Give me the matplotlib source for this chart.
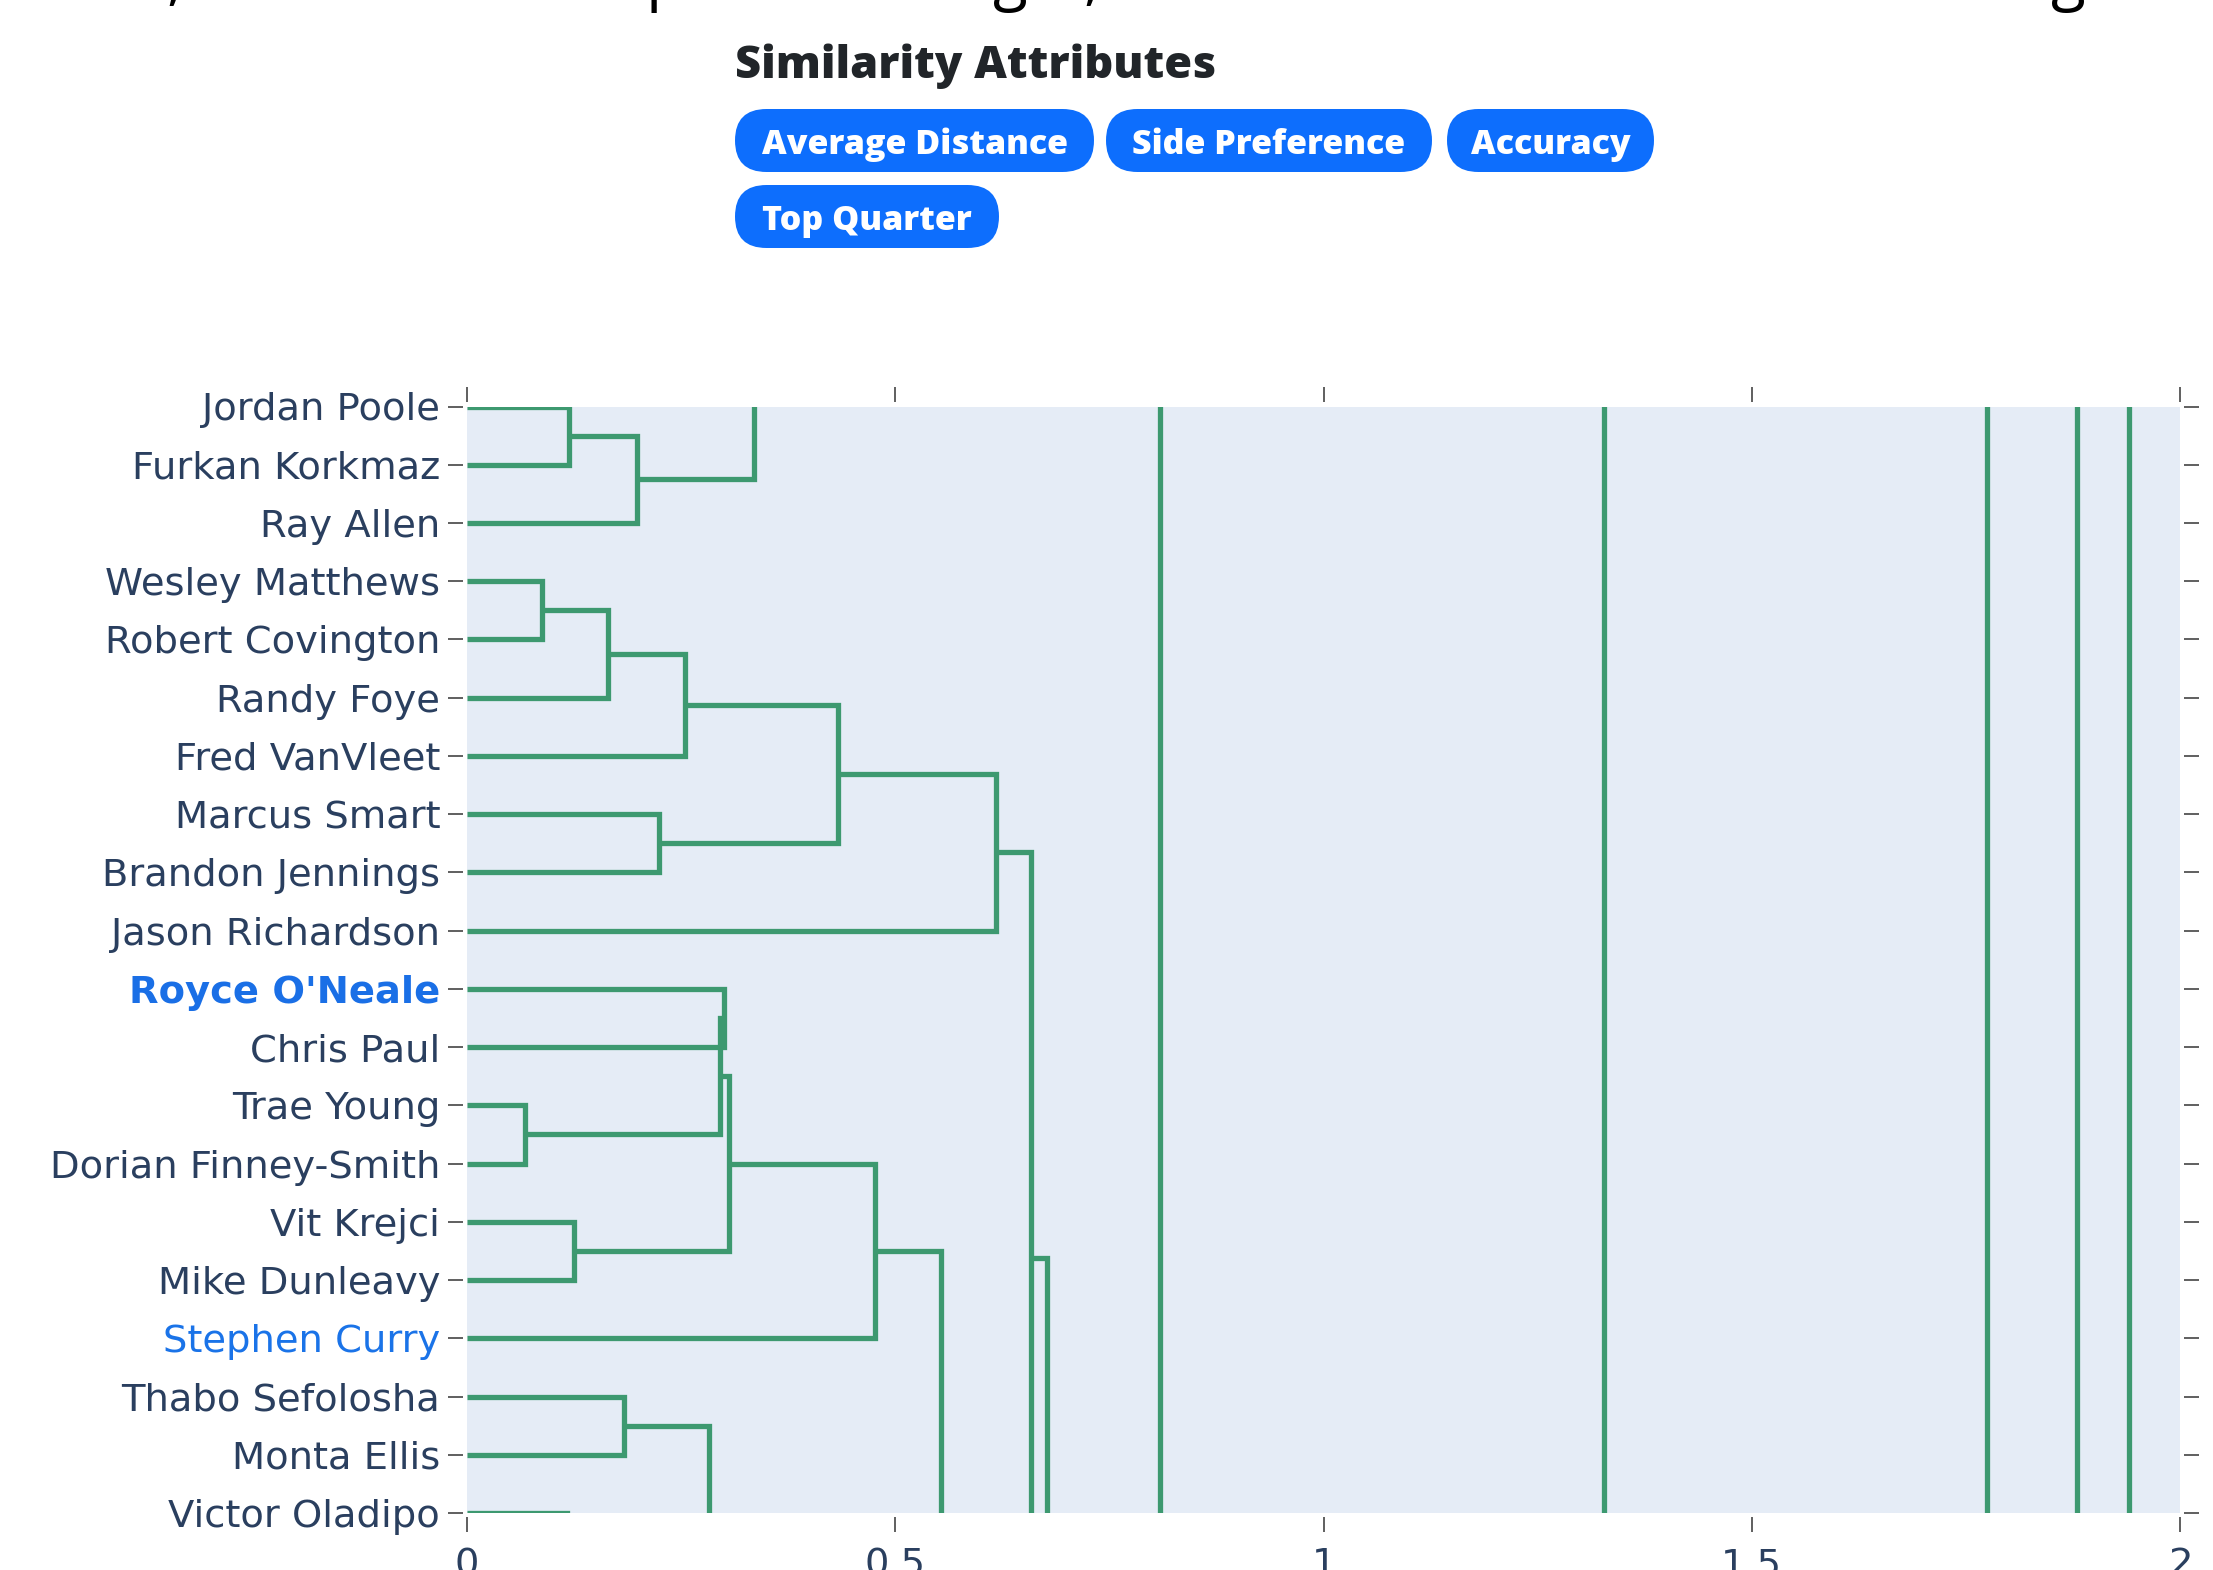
import matplotlib
matplotlib.use("Agg")
import matplotlib.pyplot as plt
from matplotlib.patches import FancyBboxPatch

# ---------------- data ----------------
leaves = ["Jordan Poole", "Furkan Korkmaz", "Ray Allen", "Wesley Matthews",
          "Robert Covington", "Randy Foye", "Fred VanVleet", "Marcus Smart",
          "Brandon Jennings", "Jason Richardson", "Royce O'Neale", "Chris Paul",
          "Trae Young", "Dorian Finney-Smith", "Vit Krejci", "Mike Dunleavy",
          "Stephen Curry", "Thabo Sefolosha", "Monta Ellis", "Victor Oladipo"]

# clusters lying outside the visible window (leaf position, height)
offscreen_names = ["A0", "B0", "B1", "B2", "B3", "B4",
                   "A5", "A6", "A7", "A8", "A9", "B5", "B6", "B7", "B8", "B9"]
offscreen_pos = [-2.5, 21.6, 26.0, 26.0, 20.0, 21.0,
                 -4.0, -8.0, -12.0, -16.0, -20.0, 24.0, 30.0, 36.0, 40.0, 44.0]
offscreen_height = [0.22, 0.55, 0.60, 0.50, 0.0, 0.25,
                    0.70, 1.20, 1.60, 1.80, 1.90, 0.70, 1.20, 1.60, 1.80, 1.90]

# merges m0, m1, ... : (left child, right child, height)
merge_left = ["Jordan Poole", "m0", "A0", "Wesley Matthews", "m3", "m4",
              "Marcus Smart", "m5", "m7", "m8", "m9", "Royce O'Neale",
              "Trae Young", "m11", "Vit Krejci", "m13", "m15", "m16",
              "Thabo Sefolosha", "Victor Oladipo", "m18",
              "A5", "A6", "A7", "A8", "A9"]
merge_right = ["Furkan Korkmaz", "Ray Allen", "m1", "Robert Covington",
               "Randy Foye", "Fred VanVleet", "Brandon Jennings", "m6",
               "Jason Richardson", "B0", "B1", "Chris Paul",
               "Dorian Finney-Smith", "m12", "Mike Dunleavy", "m14",
               "Stephen Curry", "B2", "Monta Ellis", "B3", "B4",
               "B5", "B6", "B7", "B8", "B9"]
merge_height = [0.119, 0.199, 0.335, 0.0875, 0.165, 0.254, 0.224, 0.4335,
                0.618, 0.658, 0.677, 0.300, 0.068, 0.295, 0.125, 0.306,
                0.476, 0.553, 0.183, 0.117, 0.282,
                0.809, 1.328, 1.775, 1.880, 1.941]

x_ticks = [0, 0.5, 1, 1.5, 2]
x_tick_labels = ["0", "0.5", "1", "1.5", "2"]

highlight_bold = "Royce O'Neale"
highlight_plain = "Stephen Curry"

title_text = "Similarity Attributes"
pill_labels = ["Average Distance", "Side Preference", "Accuracy", "Top Quarter"]
cut_chars = [",", "p", "g", ",", "g"]

# ---------------- figure ----------------
W, H = 2213, 1570
fig = plt.figure(figsize=(W / 100, H / 100), dpi=100)
fig.patch.set_facecolor("white")

# pixel-coordinate overlay for header decorations
ov = fig.add_axes([0, 0, 1, 1])
ov.set_xlim(0, W)
ov.set_ylim(H, 0)
ov.axis("off")
ov.set_zorder(0)

# main dendrogram axes
L, R, T, B = 467, 2180, 406.5, 1513
ax = fig.add_axes([L / W, 1 - B / H, (R - L) / W, (B - T) / H])
ax.set_zorder(1)
ax.set_facecolor("#E5ECF6")

pos = {n: i for i, n in enumerate(leaves)}
hgt = {n: 0.0 for n in leaves}
for n, p, h in zip(offscreen_names, offscreen_pos, offscreen_height):
    pos[n] = p
    hgt[n] = h

line_color = "#3D9970"
for k, (a, b, h) in enumerate(zip(merge_left, merge_right, merge_height)):
    ya, yb = pos[a], pos[b]
    ax.plot([hgt[a], h, h, hgt[b]], [ya, ya, yb, yb], color=line_color,
            lw=3.8, solid_joinstyle="miter", solid_capstyle="butt", zorder=3)
    pos[f"m{k}"] = (ya + yb) / 2
    hgt[f"m{k}"] = h

ax.set_xlim(0, 2)
ax.set_ylim(len(leaves) - 1, 0)
for s in ax.spines.values():
    s.set_position(("outward", 3.0))
    s.set_visible(False)

ax.set_yticks(range(len(leaves)))
ax.set_yticklabels(leaves)
ax.set_xticks(x_ticks)
ax.set_xticklabels(x_tick_labels)
ax.tick_params(axis="both", direction="out", length=10.8, width=1.2,
               color="#444444", labelcolor="#2a3f5f", labelsize=27.7,
               top=True, right=True, labeltop=False, labelright=False)
ax.tick_params(axis="y", pad=5.5)
ax.tick_params(axis="x", pad=11)
ax.grid(False)

for lab in ax.get_yticklabels():
    if lab.get_text() == highlight_bold:
        lab.set_color("#1a6fe6")
        lab.set_fontweight("bold")
    elif lab.get_text() == highlight_plain:
        lab.set_color("#1a73e8")

# ---------------- header ----------------
renderer = fig.canvas.get_renderer()


def fit_width(t, target):
    w = t.get_window_extent(renderer).width
    t.set_fontsize(t.get_fontsize() * target / w)


title = ov.text(735, 78, title_text, fontsize=34, fontweight="heavy",
                family="Open Sans", color="#212529", ha="left", va="baseline")
fit_width(title, 482)

pill_x0 = [735, 1106, 1447, 735]
pill_x1 = [1094, 1432, 1654, 999]
pill_y0 = [109, 109, 109, 185]
pill_h = 63
pill_size = None
for i, (lab, x0, x1, y0) in enumerate(zip(pill_labels, pill_x0, pill_x1, pill_y0)):
    p = FancyBboxPatch((x0, y0), x1 - x0, pill_h,
                       boxstyle=f"round,pad=0,rounding_size={pill_h / 2}",
                       facecolor="#0d6efd", edgecolor="none")
    ov.add_patch(p)
    t = ov.text((x0 + x1) / 2, y0 + pill_h / 2 + 4, lab, fontsize=22,
                fontweight="heavy", family="Open Sans", color="white",
                ha="center", va="center")
    if i == 0:
        fit_width(t, 306)
        pill_size = t.get_fontsize()
    else:
        t.set_fontsize(pill_size)

# descenders of a larger heading that is cut off at the top
for ch, x in zip(cut_chars, [175, 665, 1010, 1092, 2068]):
    ov.text(x, -2, ch, fontsize=46, family="Open Sans", color="black",
            ha="center", va="baseline")

fig.savefig("out.png", dpi=100, facecolor="white")
